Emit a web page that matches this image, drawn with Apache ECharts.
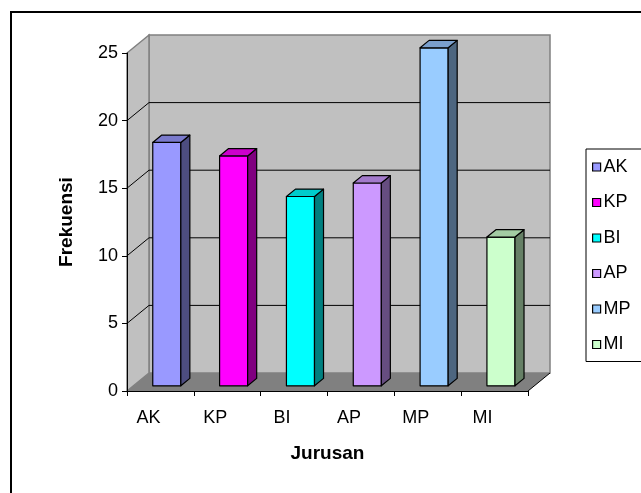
<!DOCTYPE html>
<html>
<head>
<meta charset="utf-8">
<script src="https://cdn.jsdelivr.net/npm/echarts@6/dist/echarts.min.js"></script>
<style>
  html, body { margin: 0; padding: 0; background: #fff; }
  #chart { width: 641px; height: 493px; }
</style>
</head>
<body>
<div id="chart"></div>
<script>
// Frekuensi per jurusan
const categories = ['AK', 'KP', 'BI', 'AP', 'MP', 'MI'];
const frequencies = [18, 17, 14, 15, 25, 11];
const yTicks = [0, 5, 10, 15, 20, 25];

// column shading: front face, top face, side face
const faceColors = ['#9999FF', '#FF00FF', '#00FFFF', '#CC99FF', '#99CCFF', '#CCFFCC'];
const topColors  = ['#7A7ACC', '#CC00CC', '#00CCCC', '#A37ACC', '#7A9FCC', '#A3CCA3'];
const sideColors = ['#4D4D80', '#800080', '#008080', '#664D80', '#4D6680', '#668066'];

const FONT = 'Liberation Sans, Arial, sans-serif';

// oblique depth of the 3D box (pixels from front plane to back wall)
const DEPTH_X = 22;
const DEPTH_Y = -18;
// columns sit between these fractions of the depth
const BAR_FRONT = 0.29;
const BAR_BACK = 0.70;
// column width as a fraction of one category band
const BAR_WIDTH = 0.42;

function renderWalls(params, api) {
  const cs = params.coordSys;
  const x0 = cs.x, x1 = cs.x + cs.width;
  const yt = cs.y, yb = cs.y + cs.height;
  const dx = DEPTH_X, dy = DEPTH_Y;
  const children = [];
  // back wall
  children.push({
    type: 'polygon',
    shape: { points: [[x0 + dx, yt + dy], [x1 + dx, yt + dy], [x1 + dx, yb + dy], [x0 + dx, yb + dy]] },
    style: { fill: '#C0C0C0', stroke: '#808080', lineWidth: 1.5 }
  });
  // side wall
  children.push({
    type: 'polygon',
    shape: { points: [[x0, yb], [x0, yt], [x0 + dx, yt + dy], [x0 + dx, yb + dy]] },
    style: { fill: '#C0C0C0', stroke: '#808080', lineWidth: 1.5 }
  });
  // floor
  children.push({
    type: 'polygon',
    shape: { points: [[x0, yb], [x1, yb], [x1 + dx, yb + dy], [x0 + dx, yb + dy]] },
    style: { fill: '#808080', stroke: null }
  });
  children.push({
    type: 'polyline',
    shape: { points: [[x1, yb], [x1 + dx, yb + dy]] },
    style: { stroke: '#000', lineWidth: 1, fill: null }
  });
  // gridlines across the side and back walls
  const maxV = yTicks[yTicks.length - 1];
  yTicks.forEach(function (v) {
    if (v <= 0 || v >= maxV) return;
    const y = api.coord([0, v])[1];
    children.push({
      type: 'polyline',
      shape: { points: [[x0, y], [x0 + dx, y + dy], [x1 + dx, y + dy]] },
      style: { stroke: '#000', lineWidth: 1, fill: null }
    });
  });
  return { type: 'group', children: children };
}

function makeBarRenderer(k) {
  return function (params, api) {
    const i = api.value(0);
    const v = api.value(1);
    const band = api.size([1, 0])[0];
    const base = api.coord([i, 0]);
    const top = api.coord([i, v]);
    const w = band * BAR_WIDTH;
    const ox = DEPTH_X * BAR_FRONT, oy = DEPTH_Y * BAR_FRONT;
    const ddx = DEPTH_X * (BAR_BACK - BAR_FRONT), ddy = DEPTH_Y * (BAR_BACK - BAR_FRONT);
    const xl = base[0] + ox - w / 2, xr = xl + w;
    const yb = base[1] + oy, yt = top[1] + oy;
    const edge = { stroke: '#000', lineWidth: 1.2, lineJoin: 'round' };
    return {
      type: 'group',
      children: [
        { type: 'polygon', shape: { points: [[xl, yb], [xr, yb], [xr, yt], [xl, yt]] },
          style: Object.assign({ fill: faceColors[k] }, edge) },
        { type: 'polygon', shape: { points: [[xr, yb], [xr + ddx, yb + ddy], [xr + ddx, yt + ddy], [xr, yt]] },
          style: Object.assign({ fill: sideColors[k] }, edge) },
        { type: 'polygon', shape: { points: [[xl, yt], [xr, yt], [xr + ddx, yt + ddy], [xl + ddx, yt + ddy]] },
          style: Object.assign({ fill: topColors[k] }, edge) }
      ]
    };
  };
}

const series = [{
  type: 'custom',
  name: '__walls',
  silent: true,
  z: 1,
  renderItem: renderWalls,
  data: [[0, 0]]
}];
categories.forEach(function (c, k) {
  series.push({
    type: 'custom',
    name: c,
    z: 3,
    silent: true,
    itemStyle: { color: faceColors[k] },
    renderItem: makeBarRenderer(k),
    encode: { x: 0, y: 1 },
    data: [[k, frequencies[k]]]
  });
});

const chart = echarts.init(document.getElementById('chart'), null, { renderer: 'canvas' });
chart.setOption({
  animation: false,
  backgroundColor: '#fff',
  textStyle: { fontFamily: FONT },
  graphic: [{
    type: 'rect',
    silent: true,
    z: 0,
    shape: { x: 11, y: 12, width: 700, height: 600 },
    style: { fill: null, stroke: '#000', lineWidth: 2 }
  }],
  grid: { left: 127, top: 53, width: 401, height: 338, containLabel: false },
  xAxis: {
    type: 'category',
    data: categories,
    z: 5,
    name: 'Jurusan',
    nameLocation: 'middle',
    nameGap: 53,
    nameTextStyle: { fontFamily: FONT, fontWeight: 'bold', fontSize: 19, color: '#000' },
    axisLine: { lineStyle: { color: '#000', width: 1 } },
    axisTick: { show: true, alignWithLabel: false, length: 5, lineStyle: { color: '#000' } },
    axisLabel: { fontFamily: FONT, fontSize: 18, color: '#000', margin: 18, padding: [0, 24, 0, 0] },
    splitLine: { show: false }
  },
  yAxis: {
    type: 'value',
    min: 0, max: 25, interval: 5,
    z: 5,
    name: 'Frekuensi',
    nameLocation: 'middle',
    nameGap: 51,
    nameTextStyle: { fontFamily: FONT, fontWeight: 'bold', fontSize: 19, color: '#000' },
    axisLine: { show: true, lineStyle: { color: '#000', width: 1 } },
    axisTick: { show: true, length: 5, lineStyle: { color: '#000' } },
    axisLabel: { fontFamily: FONT, fontSize: 18, color: '#000', margin: 9 },
    splitLine: { show: false }
  },
  legend: {
    data: categories,
    orient: 'vertical',
    left: 586,
    top: 149,
    padding: [9, 60, 8, 6],
    itemWidth: 8,
    itemHeight: 8,
    itemGap: 17.5,
    icon: 'rect',
    selectedMode: false,
    borderColor: '#000',
    borderWidth: 1,
    itemStyle: { borderColor: '#000', borderWidth: 1.2 },
    textStyle: { fontFamily: FONT, fontSize: 18, color: '#000', padding: [0, 0, 0, -2] }
  },
  series: series
});
</script>
</body>
</html>
